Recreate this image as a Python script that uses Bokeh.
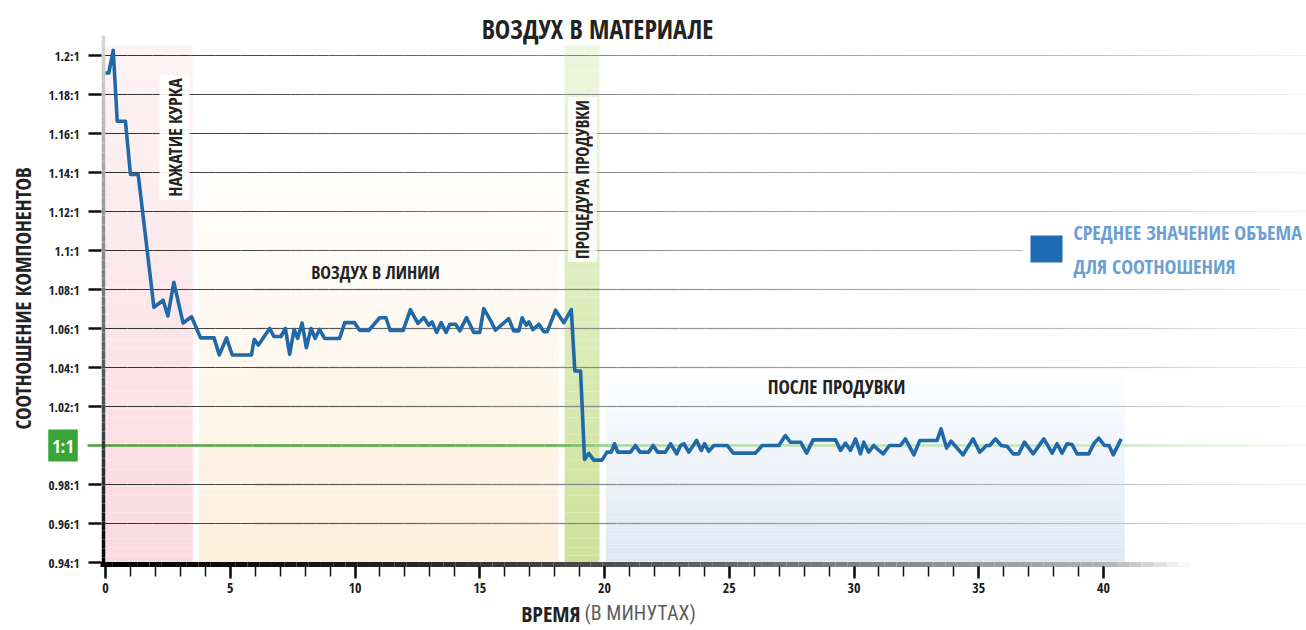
import numpy as np
from bokeh.plotting import figure
from bokeh.models import FixedTicker, Label, BoxAnnotation, Range1d
from bokeh.embed import file_html
from bokeh.resources import INLINE

# ---------------- data ----------------
time_min = [0.0, 0.13, 0.31, 0.47, 0.8, 1.0, 1.31, 1.94, 2.31, 2.5, 2.74, 3.11, 3.45, 3.81,
            4.35, 4.56, 4.85, 5.08, 5.85, 5.96, 6.13, 6.58, 6.75, 7.03, 7.21, 7.38, 7.56,
            7.7, 7.88, 8.05, 8.24, 8.4, 8.58, 8.78, 9.38, 9.59, 9.98, 10.19, 10.55, 10.99,
            11.24, 11.41, 11.93, 12.22, 12.52, 12.76, 12.96, 13.09, 13.27, 13.45, 13.65,
            13.8, 14.03, 14.2, 14.47, 14.76, 15.0, 15.16, 15.43, 15.63, 16.16, 16.36, 16.57,
            16.7, 16.86, 16.97, 17.13, 17.37, 17.57, 17.7, 18.04, 18.37, 18.67, 18.81, 19.04,
            19.2, 19.37, 19.57, 19.9, 20.1, 20.27, 20.4, 20.53, 21.04, 21.24, 21.42, 21.77,
            21.95, 22.13, 22.44, 22.65, 22.89, 23.05, 23.18, 23.38, 23.69, 23.88, 24.01,
            24.18, 24.38, 24.92, 25.16, 26.05, 26.32, 26.99, 27.25, 27.45, 27.86, 28.1,
            28.36, 29.26, 29.46, 29.66, 29.86, 30.06, 30.26, 30.39, 30.59, 30.79, 30.93,
            31.17, 31.42, 31.86, 32.06, 32.4, 32.64, 33.33, 33.49, 33.71, 33.89, 34.37,
            34.77, 35.04, 35.31, 35.44, 35.67, 35.9, 36.14, 36.38, 36.6, 36.83, 37.18,
            37.61, 37.94, 38.14, 38.34, 38.54, 38.74, 38.94, 39.41, 39.61, 39.81, 40.04,
            40.22, 40.39, 40.71]
ratio = [1.191, 1.191, 1.2026, 1.1663, 1.1663, 1.139, 1.139, 1.0709, 1.0745, 1.0664, 1.0837,
         1.0628, 1.066, 1.0552, 1.0552, 1.0464, 1.0552, 1.0464, 1.0464, 1.0545, 1.0515, 1.06,
         1.0559, 1.0559, 1.06, 1.0468, 1.0595, 1.0549, 1.0628, 1.0502, 1.06, 1.0549, 1.0596,
         1.0549, 1.0549, 1.063, 1.063, 1.059, 1.059, 1.0655, 1.0655, 1.059, 1.059, 1.0697,
         1.0626, 1.0656, 1.0617, 1.0634, 1.058, 1.063, 1.058, 1.0622, 1.0622, 1.0588, 1.0656,
         1.058, 1.058, 1.0702, 1.0642, 1.0591, 1.0651, 1.0588, 1.0588, 1.0655, 1.0617, 1.0634,
         1.0594, 1.0622, 1.0583, 1.0583, 1.0694, 1.063, 1.0697, 1.0382, 1.0382, 0.9928, 0.996,
         0.9925, 0.9925, 0.9966, 0.9966, 1.0009, 0.9966, 0.9966, 1.0, 0.9966, 0.9966, 1.0,
         0.9966, 0.9966, 1.0009, 0.9957, 1.0, 1.0009, 0.9966, 1.0026, 0.9975, 1.0009, 0.997,
         1.0, 1.0, 0.9961, 0.9961, 1.0, 1.0, 1.0051, 1.0017, 1.0017, 0.9961, 1.0029, 1.0029,
         0.9975, 1.0012, 0.9975, 1.0034, 0.9957, 1.0017, 0.9966, 1.0, 0.9983, 0.9957, 1.0,
         1.0, 1.0034, 0.9952, 1.0026, 1.0026, 1.0085, 0.9987, 1.0022, 0.9952, 1.0034, 0.9966,
         1.0, 1.0, 1.0034, 1.0, 0.9995, 0.9957, 0.9957, 1.0017, 0.9957, 1.0034, 0.9961,
         1.0009, 0.9961, 1.0009, 1.0005, 0.9957, 0.9957, 1.0009, 1.0038, 1.0, 1.0, 0.9952,
         1.0034]

y_ticks = [0.94, 0.96, 0.98, 1.0, 1.02, 1.04, 1.06, 1.08, 1.1, 1.12, 1.14, 1.16, 1.18, 1.2]
y_tick_labels = ["0.94:1", "0.96:1", "0.98:1", "1:1", "1.02:1", "1.04:1", "1.06:1", "1.08:1",
                 "1.1:1", "1.12:1", "1.14:1", "1.16:1", "1.18:1", "1.2:1"]
target_ratio = 1.0
x_ticks = [0, 5, 10, 15, 20, 25, 30, 35, 40]
x_minor_ticks = list(range(0, 41))

phase_names = ["НАЖАТИЕ КУРКА", "ВОЗДУХ В ЛИНИИ", "ПРОЦЕДУРА ПРОДУВКИ", "ПОСЛЕ ПРОДУВКИ"]
phase_start = [0.0, 3.75, 18.4, 20.05]
phase_end = [3.5, 18.15, 19.8, 40.85]

title_text = "ВОЗДУХ В МАТЕРИАЛЕ"
x_title_main = "ВРЕМЯ"
x_title_unit = "(В МИНУТАХ)"
y_title = "СООТНОШЕНИЕ КОМПОНЕНТОВ"
legend_lines = ["СРЕДНЕЕ ЗНАЧЕНИЕ ОБЪЕМА", "ДЛЯ СООТНОШЕНИЯ"]

# ---------------- layout helpers (page pixels -> data) ----------------
FONT = "Open Sans Condensed"
FONT_LIGHT = "Roboto Condensed"
W, H = 1306, 630
X0_PX, X_SCALE = 105.0, 24.95        # page px of t=0, px per minute
Y0_PX, Y_SCALE = 55.0, 1950.0        # page px of ratio 1.2, px per unit

def px2x(px):
    return (px - X0_PX) / X_SCALE

def px2y(py):
    return 1.2 - (py - Y0_PX) / Y_SCALE

x_lo, x_hi = px2x(0), px2x(W)
y_lo, y_hi = px2y(H), px2y(0)

def _rgb(h):
    h = h.lstrip("#")
    return [int(h[i:i + 2], 16) for i in (0, 2, 4)]

def grad(stops, v):
    if v <= stops[0][0]:
        return stops[0][1]
    for (p0, c0), (p1, c1) in zip(stops, stops[1:]):
        if v <= p1:
            f = (v - p0) / (p1 - p0)
            a, b = _rgb(c0), _rgb(c1)
            return "#%02x%02x%02x" % tuple(int(round(a[i] + (b[i] - a[i]) * f)) for i in range(3))
    return stops[-1][1]

p = figure(frame_width=W, frame_height=H, title=None,
           x_range=Range1d(x_lo, x_hi), y_range=Range1d(y_lo, y_hi),
           output_backend="svg", toolbar_location=None, min_border=0)
p.outline_line_color = None
p.xgrid.visible = False
p.ygrid.visible = False
p.background_fill_color = "white"
p.border_fill_color = "white"

# ---------------- phase bands (vertical gradient) ----------------
band_style = [("#fadae1", "#fdf3f5", 45), ("#fdefdc", "#ffffff", 150),
              ("#cee19a", "#eef6de", 45), ("#dce7f3", "#ffffff", 362)]
base_y = px2y(564)
L, R, B, T, C = [], [], [], [], []
for s, e, (cb, ct, top_px) in zip(phase_start, phase_end, band_style):
    ytop = px2y(top_px)
    n = 60
    edges = np.linspace(base_y, ytop, n + 1)
    for i in range(n):
        f = (i + 0.5) / n
        L.append(s); R.append(e); B.append(edges[i]); T.append(edges[i + 1])
        C.append(grad([(0, cb), (1, ct)], f))
p.quad(left=L, right=R, bottom=B, top=T, fill_color=C, line_color=None)

# ---------------- gridlines (fading to the right) ----------------
gx_start = px2x(102)
grid_stops = [(gx_start, "#2e2e2e"), (10, "#5c5c5c"), (20, "#8a8a8a"), (30, "#a6a6a6"),
              (40, "#bfbfbf"), (44, "#dddddd"), (x_hi, "#f3f3f3")]
xs = np.linspace(gx_start, x_hi, 97)
gx0, gx1, gy, gc = [], [], [], []
for yv in y_ticks:
    if yv in (y_ticks[0], target_ratio):
        continue
    for a, b in zip(xs[:-1], xs[1:]):
        gx0.append(a); gx1.append(b); gy.append(yv); gc.append(grad(grid_stops, (a + b) / 2))
p.segment(x0=gx0, y0=gy, x1=gx1, y1=gy, line_color=gc, line_width=1.2)

# 1:1 reference line (green, fading), including its tick
gxs = np.linspace(px2x(87), x_hi, 97)
green_stops = [(px2x(87), "#45a436"), (18, "#5db24c"), (19.6, "#8fc981"), (21, "#b3daa7"),
               (40, "#cce6c4"), (44, "#e5f2e1"), (x_hi, "#f8fbf7")]
p.segment(x0=list(gxs[:-1]), y0=[target_ratio] * 96, x1=list(gxs[1:]), y1=[target_ratio] * 96,
          line_color=[grad(green_stops, (a + b) / 2) for a, b in zip(gxs[:-1], gxs[1:])],
          line_width=2.6)

# axis bars with gradients
bx = np.linspace(px2x(100), px2x(1190), 90)
bar_stops = [(px2x(100), "#000000"), (10, "#1a1a1a"), (20, "#4d4d4d"), (30, "#808080"),
             (40, "#b0b0b0"), (41.5, "#d0d0d0"), (px2x(1190), "#ffffff")]
by = px2y(564)
p.segment(x0=list(bx[:-1]), y0=[by] * 89, x1=list(bx[1:]), y1=[by] * 89,
          line_color=[grad(bar_stops, (a + b) / 2) for a, b in zip(bx[:-1], bx[1:])],
          line_width=5)
vy = np.linspace(px2y(566), px2y(35), 60)
vstops = [(px2y(566), "#000000"), (1.0, "#3a3a3a"), (1.1, "#8a8a8a"), (px2y(35), "#d6d6d6")]
vxp = px2x(103)
p.segment(x0=[vxp] * 59, y0=list(vy[:-1]), x1=[vxp] * 59, y1=list(vy[1:]),
          line_color=[grad(vstops, (a + b) / 2) for a, b in zip(vy[:-1], vy[1:])],
          line_width=3.5)

# ---------------- data line ----------------
p.line(time_min, ratio, line_color="#1f69a8", line_width=3.6, line_join="round")

# ---------------- axes (drawn at fixed positions inside the canvas) ----------------
xa = p.xaxis[0]
xa.fixed_location = px2y(566)
xa.ticker = FixedTicker(ticks=x_ticks, minor_ticks=x_minor_ticks)
xa.axis_line_color = None
xa.major_tick_out = 12
xa.major_tick_in = 0
xa.major_tick_line_width = 2.5
xa.major_tick_line_color = "#111111"
xa.minor_tick_out = 10
xa.minor_tick_in = 0
xa.minor_tick_line_width = 1.5
xa.minor_tick_line_color = "#111111"
xa.major_label_text_font = FONT
xa.major_label_text_font_size = "14px"
xa.major_label_text_font_style = "bold"
xa.major_label_text_color = "#1a1a1a"
xa.major_label_standoff = 4

ya = p.yaxis[0]
ya.fixed_location = px2x(101)
shown = [(t, l) for t, l in zip(y_ticks, y_tick_labels) if t != target_ratio]
ya.ticker = FixedTicker(ticks=[t for t, _ in shown], minor_ticks=[])
ya.major_label_overrides = {t: l for t, l in shown}
ya.axis_line_color = None
ya.major_tick_out = 13
ya.major_tick_in = 0
ya.major_tick_line_width = 2.5
ya.major_tick_line_color = "#111111"
ya.minor_tick_out = 0
ya.major_label_text_font = FONT
ya.major_label_text_font_size = "13px"
ya.major_label_text_font_style = "bold"
ya.major_label_text_color = "#1a1a1a"
ya.major_label_standoff = 9

# 1:1 badge
p.add_layout(Label(x=px2x(62.5), y=target_ratio, text=y_tick_labels[y_ticks.index(target_ratio)],
                   text_align="center", text_baseline="middle", text_font=FONT,
                   text_font_size="18px", text_font_style="bold", text_color="white",
                   background_fill_color="#3aa537", background_fill_alpha=1, padding=4))

# ---------------- phase labels ----------------
lab_kw = dict(text_font=FONT, text_font_style="bold", text_color="#222222",
              text_align="center", text_baseline="middle")
p.add_layout(Label(x=px2x(174), y=px2y(137), text=phase_names[0], angle=np.pi / 2,
                   text_font_size="18px", background_fill_color="white",
                   background_fill_alpha=0.9, padding=3, **lab_kw))
p.add_layout(Label(x=px2x(375), y=px2y(271), text=phase_names[1], text_font_size="18px", **lab_kw))
p.add_layout(Label(x=px2x(582), y=px2y(179), text=phase_names[2], angle=np.pi / 2,
                   text_font_size="17px", background_fill_color="white",
                   background_fill_alpha=0.8, padding=3, **lab_kw))
p.add_layout(Label(x=px2x(836), y=px2y(386), text=phase_names[3], text_font_size="19px", **lab_kw))

# ---------------- titles ----------------
p.add_layout(Label(x=px2x(597), y=px2y(28), text=title_text, text_font=FONT,
                   text_font_size="26px", text_font_style="bold", text_color="#222222",
                   text_align="center", text_baseline="middle"))
p.add_layout(Label(x=px2x(580), y=px2y(612), text=x_title_main, text_font=FONT,
                   text_font_size="22px", text_font_style="bold", text_color="#222222",
                   text_align="right", text_baseline="middle"))
p.add_layout(Label(x=px2x(584), y=px2y(612), text=x_title_unit, text_font=FONT_LIGHT,
                   text_font_size="20px", text_font_style="normal", text_color="#5e5e5e",
                   text_align="left", text_baseline="middle"))
p.add_layout(Label(x=px2x(22), y=px2y(298), text=y_title, angle=np.pi / 2, text_font=FONT,
                   text_font_size="21px", text_font_style="bold", text_color="#222222",
                   text_align="center", text_baseline="middle"))

# ---------------- legend ----------------
p.add_layout(BoxAnnotation(left=px2x(1022), right=x_hi, top=px2y(217), bottom=px2y(281),
                           fill_color="white", fill_alpha=1, line_color=None))
p.add_layout(BoxAnnotation(left=px2x(1030), right=px2x(1062), top=px2y(235), bottom=px2y(262),
                           fill_color="#1f6cb4", fill_alpha=1, line_color=None))
for i, txt in enumerate(legend_lines):
    p.add_layout(Label(x=px2x(1073), y=px2y(232 + 34 * i), text=txt, text_font=FONT,
                       text_font_size="20px", text_font_style="bold", text_color="#6b9fd2",
                       text_align="left", text_baseline="middle"))

open("out.html", "w").write(file_html(p, INLINE))
